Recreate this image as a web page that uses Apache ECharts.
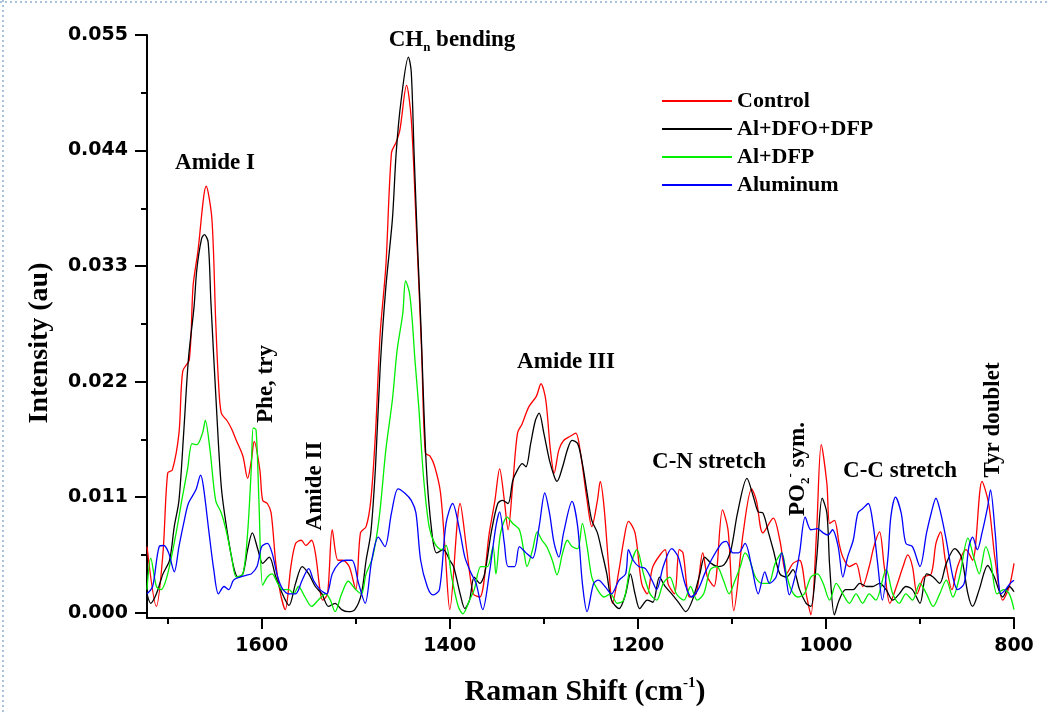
<!DOCTYPE html>
<html>
<head>
<meta charset="utf-8">
<script src="https://cdn.jsdelivr.net/npm/echarts@6/dist/echarts.min.js"></script>
<style>
html,body{margin:0;padding:0;background:#fff;}
#chart{width:1048px;height:713px;}
</style>
</head>
<body>
<div id="chart"></div>
<script>
// ---- data (Raman shift cm-1, intensity au) ----
const seriesNames = ['Control', 'Al+DFO+DFP', 'Al+DFP', 'Aluminum'];
const seriesColors = ['#ff0000', '#000000', '#00ee00', '#0000ff'];

const controlData = [
[1722,0.0063],[1712,0.0006],[1705,0.0057],[1700,0.0133],[1695,0.0136],[1688,0.0171],[1684,0.0230],[1677,0.0241],[1673,0.0311],[1668,0.0343],[1659,0.0406],[1653,0.0375],[1649,0.0279],[1646,0.0220],[1643,0.0190],[1637,0.0183],[1632,0.0175],[1627,0.0164],[1620,0.0149],[1615,0.0128],[1611,0.0145],[1608,0.0163],[1602,0.0136],[1599,0.0107],[1594,0.0104],[1590,0.0095],[1585,0.0047],[1580,0.0018],[1575,0.0003],[1569,0.0044],[1564,0.0066],[1558,0.0069],[1553,0.0064],[1547,0.0069],[1543,0.0057],[1535,0.0012],[1530,0.0018],[1525,0.0079],[1519,0.0050],[1514,0.0050],[1507,0.0044],[1500,0.0022],[1495,0.0076],[1489,0.0082],[1484,0.0107],[1479,0.0171],[1474,0.0266],[1468,0.0330],[1462,0.0438],[1457,0.0448],[1453,0.0460],[1446,0.0502],[1441,0.0470],[1436,0.0375],[1430,0.0250],[1426,0.0152],[1421,0.0149],[1416,0.0139],[1410,0.0115],[1405,0.0060],[1400,0.0003],[1389,0.0104],[1382,0.0060],[1375,0.0018],[1368,0.0015],[1358,0.0076],[1352,0.0107],[1347,0.0137],[1342,0.0107],[1338,0.0079],[1333,0.0123],[1328,0.0171],[1323,0.0180],[1316,0.0196],[1308,0.0206],[1303,0.0218],[1298,0.0203],[1293,0.0155],[1289,0.0133],[1284,0.0155],[1279,0.0164],[1272,0.0168],[1266,0.0171],[1261,0.0152],[1254,0.0107],[1249,0.0082],[1243,0.0107],[1240,0.0125],[1236,0.0101],[1231,0.0044],[1227,0.0009],[1220,0.0041],[1215,0.0069],[1210,0.0087],[1203,0.0076],[1196,0.0028],[1190,0.0018],[1184,0.0044],[1171,0.0060],[1168,0.0028],[1161,0.0018],[1156,0.0060],[1152,0.0057],[1145,0.0015],[1138,0.0018],[1131,0.0057],[1126,0.0034],[1119,0.0025],[1110,0.0098],[1104,0.0078],[1098,0.0002],[1088,0.0076],[1079,0.0118],[1074,0.0107],[1067,0.0076],[1056,0.0090],[1049,0.0069],[1042,0.0037],[1035,0.0047],[1028,0.0050],[1021,0.0018],[1016,-0.0002],[1010,0.0076],[1005,0.0160],[999,0.0123],[996,0.0085],[991,0.0088],[986,0.0066],[982,0.0053],[975,0.0044],[968,0.0047],[961,0.0025],[954,0.0044],[949,0.0063],[943,0.0077],[938,0.0044],[932,0.0009],[925,0.0025],[918,0.0044],[913,0.0055],[908,0.0044],[903,0.0018],[896,0.0034],[888,0.0037],[883,0.0066],[878,0.0077],[873,0.0050],[866,0.0022],[860,0.0044],[851,0.0060],[844,0.0050],[834,0.0125],[827,0.0104],[820,0.0050],[812,0.0012],[805,0.0025],[800,0.0047]
];

const dfoDfpData = [
[1722,0.0018],[1718,0.0009],[1712,0.0018],[1705,0.0037],[1698,0.0050],[1693,0.0082],[1688,0.0107],[1683,0.0171],[1678,0.0241],[1672,0.0291],[1669,0.0327],[1664,0.0356],[1661,0.0360],[1657,0.0353],[1654,0.0295],[1648,0.0193],[1643,0.0120],[1637,0.0079],[1630,0.0044],[1625,0.0034],[1620,0.0037],[1615,0.0060],[1610,0.0076],[1604,0.0060],[1599,0.0047],[1592,0.0053],[1585,0.0034],[1578,0.0018],[1571,0.0007],[1564,0.0028],[1557,0.0044],[1550,0.0037],[1543,0.0025],[1536,0.0018],[1529,0.0006],[1522,0.0009],[1515,0.0003],[1508,0.0001],[1501,0.0003],[1494,0.0018],[1489,0.0050],[1484,0.0076],[1479,0.0139],[1474,0.0234],[1468,0.0310],[1461,0.0375],[1457,0.0438],[1452,0.0486],[1444,0.0529],[1441,0.0515],[1438,0.0438],[1434,0.0343],[1431,0.0280],[1425,0.0140],[1419,0.0076],[1414,0.0057],[1407,0.0060],[1400,0.0050],[1396,0.0044],[1389,0.0018],[1384,0.0004],[1379,0.0012],[1374,0.0034],[1368,0.0028],[1363,0.0037],[1356,0.0076],[1349,0.0104],[1344,0.0107],[1338,0.0104],[1333,0.0126],[1328,0.0136],[1323,0.0142],[1319,0.0139],[1314,0.0161],[1309,0.0183],[1305,0.0190],[1300,0.0171],[1294,0.0145],[1289,0.0130],[1286,0.0125],[1280,0.0139],[1275,0.0155],[1270,0.0164],[1264,0.0161],[1259,0.0142],[1254,0.0114],[1249,0.0088],[1243,0.0076],[1238,0.0057],[1233,0.0037],[1228,0.0012],[1220,0.0004],[1213,0.0018],[1208,0.0037],[1203,0.0018],[1198,0.0004],[1190,0.0012],[1184,0.0010],[1177,0.0034],[1171,0.0025],[1164,0.0018],[1156,0.0009],[1149,0.0001],[1142,0.0012],[1134,0.0037],[1129,0.0053],[1122,0.0047],[1115,0.0044],[1108,0.0046],[1101,0.0060],[1094,0.0095],[1084,0.0128],[1077,0.0110],[1072,0.0096],[1067,0.0095],[1061,0.0076],[1056,0.0060],[1049,0.0037],[1042,0.0034],[1035,0.0041],[1028,0.0022],[1021,0.0009],[1016,0.0006],[1010,0.0050],[1004,0.0109],[999,0.0095],[996,0.0044],[991,-0.0002],[986,0.0012],[979,0.0022],[971,0.0022],[964,0.0028],[957,0.0025],[950,0.0025],[943,0.0028],[936,0.0022],[929,0.0012],[922,0.0018],[915,0.0025],[908,0.0022],[900,0.0009],[893,0.0037],[886,0.0034],[879,0.0028],[872,0.0047],[863,0.0061],[856,0.0053],[849,0.0018],[844,0.0006],[837,0.0022],[828,0.0045],[821,0.0034],[812,0.0015],[805,0.0025],[800,0.0020]
];

const dfpData = [
[1722,0.0022],[1718,0.0052],[1712,0.0025],[1707,0.0022],[1700,0.0037],[1691,0.0076],[1685,0.0107],[1679,0.0136],[1674,0.0161],[1669,0.0160],[1663,0.0171],[1660,0.0183],[1655,0.0155],[1649,0.0107],[1643,0.0095],[1638,0.0079],[1632,0.0053],[1627,0.0034],[1620,0.0037],[1615,0.0076],[1611,0.0139],[1609,0.0176],[1606,0.0174],[1603,0.0107],[1599,0.0026],[1594,0.0034],[1589,0.0037],[1583,0.0028],[1578,0.0022],[1571,0.0022],[1566,0.0018],[1561,0.0025],[1554,0.0015],[1547,0.0006],[1540,0.0012],[1532,0.0018],[1527,0.0012],[1522,0.0001],[1515,0.0018],[1508,0.0030],[1500,0.0022],[1494,0.0018],[1489,0.0037],[1482,0.0053],[1475,0.0091],[1468,0.0155],[1461,0.0203],[1456,0.0250],[1450,0.0285],[1447,0.0316],[1443,0.0305],[1440,0.0279],[1437,0.0240],[1433,0.0196],[1428,0.0130],[1422,0.0082],[1416,0.0066],[1409,0.0060],[1404,0.0064],[1398,0.0034],[1391,0.0006],[1386,-0.0001],[1379,0.0012],[1374,0.0022],[1367,0.0044],[1360,0.0044],[1354,0.0063],[1351,0.0037],[1346,0.0076],[1339,0.0091],[1333,0.0085],[1326,0.0079],[1321,0.0057],[1318,0.0044],[1312,0.0060],[1307,0.0077],[1302,0.0069],[1297,0.0063],[1291,0.0050],[1286,0.0036],[1280,0.0057],[1275,0.0069],[1270,0.0063],[1264,0.0061],[1259,0.0085],[1254,0.0063],[1249,0.0034],[1243,0.0022],[1236,0.0015],[1229,0.0018],[1222,0.0009],[1215,0.0012],[1208,0.0044],[1201,0.0060],[1194,0.0037],[1187,0.0018],[1180,0.0012],[1173,0.0028],[1166,0.0034],[1159,0.0018],[1151,0.0012],[1144,0.0025],[1137,0.0012],[1130,0.0018],[1123,0.0041],[1116,0.0044],[1109,0.0031],[1103,0.0018],[1097,0.0030],[1091,0.0044],[1086,0.0057],[1081,0.0050],[1075,0.0034],[1068,0.0028],[1061,0.0028],[1054,0.0047],[1047,0.0057],[1042,0.0037],[1037,0.0022],[1030,0.0015],[1023,0.0018],[1016,0.0034],[1009,0.0037],[1003,0.0028],[996,0.0012],[989,0.0028],[982,0.0018],[975,0.0009],[968,0.0018],[961,0.0009],[954,0.0018],[947,0.0012],[936,0.0041],[929,0.0018],[922,0.0009],[915,0.0018],[908,0.0012],[900,0.0028],[893,0.0018],[886,0.0006],[879,0.0018],[872,0.0031],[865,0.0015],[858,0.0034],[849,0.0071],[842,0.0050],[837,0.0037],[830,0.0063],[825,0.0050],[818,0.0018],[811,0.0022],[805,0.0018],[800,0.0003]
];

const aluminumData = [
[1722,0.0018],[1716,0.0025],[1709,0.0063],[1704,0.0064],[1699,0.0057],[1693,0.0039],[1688,0.0063],[1683,0.0085],[1678,0.0104],[1670,0.0117],[1665,0.0131],[1662,0.0120],[1656,0.0076],[1651,0.0041],[1646,0.0018],[1640,0.0025],[1635,0.0022],[1630,0.0031],[1623,0.0034],[1615,0.0036],[1611,0.0037],[1605,0.0044],[1600,0.0063],[1594,0.0066],[1589,0.0057],[1583,0.0034],[1578,0.0023],[1571,0.0018],[1564,0.0018],[1557,0.0031],[1550,0.0042],[1545,0.0031],[1538,0.0022],[1531,0.0018],[1525,0.0037],[1518,0.0047],[1511,0.0050],[1504,0.0050],[1497,0.0028],[1490,0.0009],[1483,0.0050],[1476,0.0072],[1469,0.0063],[1462,0.0095],[1455,0.0118],[1448,0.0114],[1441,0.0107],[1436,0.0095],[1431,0.0050],[1424,0.0025],[1418,0.0017],[1411,0.0022],[1404,0.0085],[1397,0.0104],[1389,0.0076],[1384,0.0053],[1377,0.0037],[1372,0.0028],[1365,0.0003],[1358,0.0037],[1351,0.0082],[1347,0.0096],[1342,0.0066],[1338,0.0044],[1331,0.0044],[1326,0.0063],[1319,0.0057],[1312,0.0052],[1305,0.0082],[1299,0.0114],[1294,0.0095],[1289,0.0066],[1284,0.0053],[1279,0.0076],[1270,0.0106],[1264,0.0082],[1259,0.0028],[1254,0.0001],[1247,0.0028],[1242,0.0031],[1235,0.0025],[1228,0.0018],[1220,0.0031],[1213,0.0037],[1210,0.0060],[1205,0.0050],[1199,0.0044],[1192,0.0042],[1185,0.0031],[1180,0.0022],[1173,0.0044],[1164,0.0061],[1157,0.0053],[1150,0.0028],[1143,0.0015],[1136,0.0022],[1129,0.0037],[1122,0.0050],[1111,0.0066],[1106,0.0068],[1099,0.0057],[1093,0.0057],[1086,0.0066],[1079,0.0044],[1072,0.0018],[1065,0.0039],[1060,0.0028],[1053,0.0034],[1047,0.0057],[1042,0.0031],[1039,0.0017],[1033,0.0034],[1028,0.0057],[1022,0.0091],[1016,0.0079],[1009,0.0080],[1003,0.0076],[998,0.0074],[993,0.0079],[987,0.0063],[982,0.0034],[977,0.0053],[971,0.0069],[966,0.0095],[961,0.0099],[955,0.0104],[950,0.0085],[945,0.0047],[940,0.0012],[934,0.0053],[931,0.0091],[926,0.0110],[920,0.0095],[915,0.0066],[908,0.0063],[900,0.0044],[893,0.0076],[888,0.0095],[883,0.0109],[878,0.0095],[872,0.0069],[865,0.0034],[860,0.0022],[853,0.0028],[848,0.0063],[844,0.0072],[839,0.0060],[834,0.0076],[828,0.0101],[825,0.0117],[820,0.0076],[814,0.0018],[809,0.0022],[804,0.0028],[800,0.0031]
];

const xMajorTicks = [1600, 1400, 1200, 1000, 800];
const xMinorTicks = [1700, 1500, 1300, 1100, 900];
const yMajorTicks = [0, 0.011, 0.022, 0.033, 0.044, 0.055];
const yMinorTicks = [0.0055, 0.0165, 0.0275, 0.0385, 0.0495];
const xRange = [800, 1722];
const yRange = [-0.0005, 0.055];

// ---- chart ----
const chart = echarts.init(document.getElementById('chart'), null, {renderer: 'canvas'});
const serif = 'Liberation Serif';
const sans = 'DejaVu Sans';
const allData = [controlData, dfoDfpData, dfpData, aluminumData];

function annot(x, y, text, rot, extraRich) {
  return {
    type: 'text', x: x, y: y, rotation: rot || 0, z: 50,
    style: {
      text: text, align: 'center', verticalAlign: 'middle',
      fill: '#000', fontFamily: serif, fontWeight: 'bold', fontSize: 23,
      rich: Object.assign({
        a: {fontFamily: serif, fontWeight: 'bold', fontSize: 23, fill: '#000', lineHeight: 28, verticalAlign: 'middle'},
        sub: {fontFamily: serif, fontWeight: 'bold', fontSize: 13, fill: '#000', lineHeight: 13, verticalAlign: 'bottom'},
        sup: {fontFamily: serif, fontWeight: 'bold', fontSize: 13, fill: '#000', lineHeight: 13, verticalAlign: 'top'}
      }, extraRich || {})
    }
  };
}

const option = {
  animation: false,
  backgroundColor: '#ffffff',
  grid: {left: 147, right: 34, top: 35, bottom: 95, containLabel: false},
  legend: {
    data: seriesNames,
    orient: 'vertical',
    left: 662, top: 90, padding: 0,
    icon: 'rect',
    itemWidth: 70, itemHeight: 2, itemGap: 6,
    textStyle: {fontFamily: serif, fontWeight: 'bold', fontSize: 22, lineHeight: 22, color: '#000'}
  },
  xAxis: [{
    type: 'value', min: xRange[0], max: xRange[1], inverse: true, position: 'bottom',
    axisLine: {show: true, onZero: false, lineStyle: {color: '#000', width: 2}},
    axisTick: {show: true, inside: false, length: 11, customValues: xMajorTicks, lineStyle: {color: '#000', width: 2}},
    axisLabel: {customValues: xMajorTicks, margin: 19, fontFamily: sans, fontWeight: 'bold', fontSize: 19, color: '#000',
      formatter: function (v) { return String(v); }},
    splitLine: {show: false}
  }, {
    type: 'value', min: xRange[0], max: xRange[1], inverse: true, position: 'bottom',
    axisLine: {show: false, onZero: false},
    axisTick: {show: true, inside: false, length: 6, customValues: xMinorTicks, lineStyle: {color: '#000', width: 2}},
    axisLabel: {show: false},
    splitLine: {show: false}
  }],
  yAxis: [{
    type: 'value', min: yRange[0], max: yRange[1], position: 'left',
    axisLine: {show: true, onZero: false, lineStyle: {color: '#000', width: 2}},
    axisTick: {show: true, inside: false, length: 12, customValues: yMajorTicks, lineStyle: {color: '#000', width: 2}},
    axisLabel: {customValues: yMajorTicks, margin: 19, fontFamily: sans, fontWeight: 'bold', fontSize: 19, color: '#000',
      formatter: function (v) { return v.toFixed(3); }},
    splitLine: {show: false}
  }, {
    type: 'value', min: yRange[0], max: yRange[1], position: 'left',
    axisLine: {show: false, onZero: false},
    axisTick: {show: true, inside: false, length: 6, customValues: yMinorTicks, lineStyle: {color: '#000', width: 2}},
    axisLabel: {show: false},
    splitLine: {show: false}
  }],
  series: seriesNames.map(function (name, i) {
    return {
      name: name, type: 'line', data: allData[i], xAxisIndex: 0, yAxisIndex: 0,
      symbol: 'none', smooth: 0.3, clip: true,
      itemStyle: {color: seriesColors[i]},
      lineStyle: {color: seriesColors[i], width: 1.3}
    };
  }),
  graphic: [
    // faint dotted slide frame on the left and top
    {type: 'line', shape: {x1: 3, y1: 0, x2: 3, y2: 713}, style: {stroke: '#a9c3df', lineWidth: 2, lineDash: [2, 3]}, silent: true},
    {type: 'line', shape: {x1: 0, y1: 2, x2: 1048, y2: 2}, style: {stroke: '#a9c3df', lineWidth: 2, lineDash: [2, 3]}, silent: true},
    // axis titles
    annot(585, 692, '{t|Raman Shift (cm}{tsup|-1}{t|)}', 0, {
      t: {fontFamily: serif, fontWeight: 'bold', fontSize: 30, fill: '#000', lineHeight: 32, verticalAlign: 'middle'},
      tsup: {fontFamily: serif, fontWeight: 'bold', fontSize: 15, fill: '#000', lineHeight: 15, verticalAlign: 'top'}
    }),
    annot(40, 343, '{t|Intensity (au)}', Math.PI / 2, {
      t: {fontFamily: serif, fontWeight: 'bold', fontSize: 28, fill: '#000', lineHeight: 30, verticalAlign: 'middle'}
    }),
    // peak annotations
    annot(215, 163, '{a|Amide I}'),
    annot(452, 40, '{a|CH}{sub|n}{a| bending}'),
    annot(266, 384, '{a|Phe, try}', Math.PI / 2),
    annot(315, 486, '{a|Amide II}', Math.PI / 2),
    annot(566, 362, '{a|Amide III}'),
    annot(709, 462, '{a|C-N stretch}'),
    annot(798, 469, '{a|PO}{sub|2}{sup|-}{a| sym.}', Math.PI / 2),
    annot(900, 471, '{a|C-C stretch}'),
    annot(993, 420, '{a|Tyr doublet}', Math.PI / 2)
  ]
};
chart.setOption(option);
</script>
</body>
</html>
